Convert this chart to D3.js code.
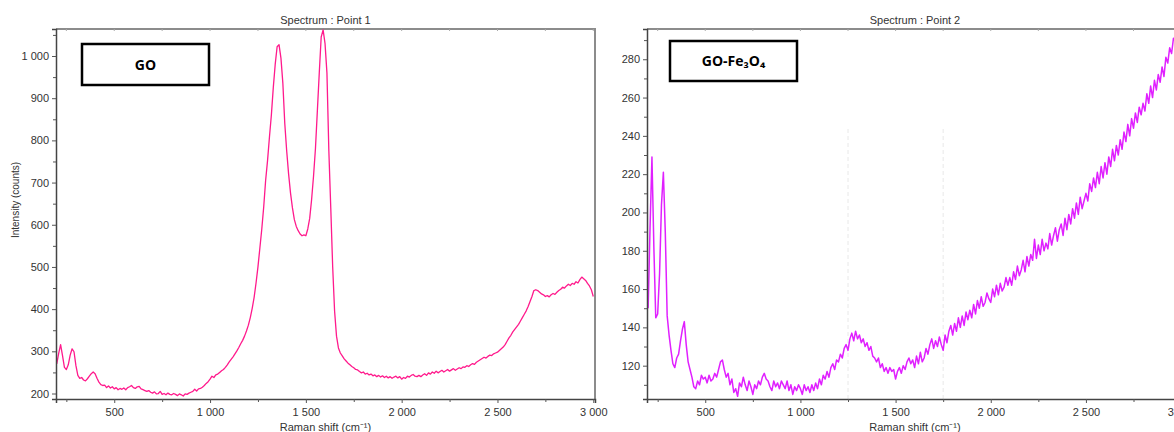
<!DOCTYPE html>
<html lang="en">
<head>
<meta charset="UTF-8">
<title>Raman spectra GO / GO-Fe3O4</title>
<script src="https://d3js.org/d3.v7.min.js"></script>
<style>
    body { margin: 0; background: #fff; }
    text { font-family: "Liberation Sans", Arial, sans-serif; fill: #333; }
    .tick text { font-size: 11px; }
    .title { font-size: 11px; }
    .label-box text { font-family: "Open Sans", sans-serif; font-weight: bold; fill: #000; }
</style>
</head>
<body>
<div id="chart"></div>
<script>
// sampling grid of the spectra (Raman shift, cm-1)
var shift = d3.range(200, 3001, 10);

// GO spectrum, counts
var goCounts = [
    270,295,316,290,262,257,268,291,306,299,
    266,243,236,238,232,230,235,241,247,251,
    247,236,227,221,219,220,214,218,213,216,
    211,214,209,212,210,213,209,214,216,219,
    214,212,216,217,211,209,207,205,207,203,
    201,204,199,200,205,198,200,197,201,198,
    197,200,198,195,199,197,194,199,198,201,
    203,205,210,206,211,212,215,219,224,228,
    234,241,238,244,246,250,254,257,262,268,
    275,281,287,294,301,309,318,326,336,348,
    362,380,402,428,462,500,545,590,642,705,
    752,808,860,925,980,1022,1027,995,935,840,
    775,720,675,640,612,596,586,578,574,576,
    574,590,615,660,715,780,870,960,1045,1062,
    1030,960,775,640,500,395,336,308,296,289,
    282,277,272,268,264,261,257,256,252,249,
    251,246,248,244,246,242,244,240,243,239,
    242,238,241,237,240,236,239,241,237,240,
    234,238,236,241,239,243,245,241,240,243,
    240,244,247,243,249,246,251,248,253,249,
    252,255,251,254,257,253,256,259,255,258,
    261,259,263,262,266,264,268,271,269,274,
    277,280,283,286,284,288,291,290,294,296,
    298,302,306,310,316,324,332,338,346,352,
    358,364,372,380,388,396,406,418,430,444,
    446,444,440,436,434,430,432,429,434,437,
    435,440,444,447,452,450,455,459,456,461,
    459,465,462,470,476,472,468,461,455,446,
    430
];

// GO-Fe3O4 spectrum, counts
var feCounts = [
    150,192,229,182,145,147,168,204,221,190,
    146,136,128,121,119,124,126,133,139,143,
    131,122,118,114,109,108,112,110,115,113,
    114,111,115,112,113,116,114,118,122,123,
    118,114,116,110,113,106,108,104,111,109,
    114,110,107,112,109,105,110,108,112,110,
    114,116,113,112,109,107,112,109,111,108,
    112,110,108,112,107,110,105,109,107,110,
    108,105,110,107,109,106,110,107,111,108,
    113,110,115,113,117,114,119,121,118,123,
    122,126,124,129,131,128,134,137,133,138,
    134,136,132,134,130,132,128,130,125,124,
    122,124,119,121,117,119,116,119,117,118,
    113,117,119,116,120,118,122,124,121,123,
    119,125,121,127,122,124,129,126,131,134,
    129,133,130,135,131,128,136,132,138,141,
    136,142,138,145,140,146,141,148,144,149,
    145,152,147,154,150,156,151,153,158,155,
    153,160,156,162,157,163,159,161,166,162,
    166,162,169,165,172,167,170,175,169,177,
    172,178,175,186,176,183,178,186,180,184,
    181,189,183,188,192,185,191,194,188,197,
    191,199,194,202,197,205,199,208,202,206,
    210,206,215,211,218,213,221,215,224,218,
    226,220,229,224,233,227,235,230,238,233,
    242,237,246,240,249,244,252,247,255,251,
    257,253,262,257,266,260,269,264,272,268,
    276,271,281,278,286,283,291,289,296,300,
    306
];

var xTicks = [500, 1000, 1500, 2000, 2500, 3000];
var xMinor = [250, 750, 1250, 1750, 2250, 2750];
var goYTicks = [200, 300, 400, 500, 600, 700, 800, 900, 1000];
var goYMinor = [250, 350, 450, 550, 650, 750, 850, 950, 1050];
var feYTicks = [120, 140, 160, 180, 200, 220, 240, 260, 280];
var feYMinor = [110, 130, 150, 170, 190, 210, 230, 250, 270, 290];

var fmt = d3.formatLocale({ decimal: ".", thousands: " ", grouping: [3], currency: ["", ""] }).format(",");

var svg = d3.select("#chart").append("svg")
    .attr("width", 1174)
    .attr("height", 432);

function drawPanel(p) {
    var x = d3.scaleLinear().domain(p.xDomain).range([p.left, p.right]);
    var y = d3.scaleLinear().domain(p.yDomain).range([p.bottom, p.top]);
    var g = svg.append("g");

    g.append("clipPath").attr("id", p.id + "-clip")
      .append("rect")
        .attr("x", p.left).attr("y", p.top)
        .attr("width", p.right - p.left).attr("height", p.bottom - p.top);

    // faint dashed markers (only on the second spectrum)
    (p.marks || []).forEach(function(m) {
        g.append("line")
            .attr("x1", x(m)).attr("x2", x(m))
            .attr("y1", p.top + 100).attr("y2", p.bottom)
            .attr("stroke", "#e8e8e8").attr("stroke-dasharray", "4,3");
    });

    // frame: top and right edges
    g.append("path")
        .attr("d", "M" + p.left + "," + p.top + "H" + p.right + "V" + p.bottom)
        .attr("fill", "none").attr("stroke", "#8c8c8c").attr("stroke-width", 2);

    // small inner ticks on top edge
    xTicks.concat(xMinor).forEach(function(t) {
        g.append("line").attr("x1", x(t)).attr("x2", x(t))
            .attr("y1", p.top).attr("y2", p.top + 2).attr("stroke", "#aaa");
    });

    var line = d3.line()
        .x(function(d) { return x(d[0]); })
        .y(function(d) { return y(d[1]); });

    g.append("path")
        .datum(d3.zip(shift, p.counts))
        .attr("clip-path", "url(#" + p.id + "-clip)")
        .attr("fill", "none")
        .attr("stroke", p.color)
        .attr("stroke-width", p.width)
        .attr("stroke-linejoin", "round")
        .attr("d", line);

    // axes
    g.append("g")
        .attr("transform", "translate(0," + p.bottom + ")")
        .call(d3.axisBottom(x).tickValues(xTicks).tickFormat(fmt).tickSizeOuter(0).tickSize(4).tickPadding(5));
    g.append("g")
        .attr("transform", "translate(0," + p.bottom + ")")
        .call(d3.axisBottom(x).tickValues(xMinor).tickFormat("").tickSize(3))
        .select(".domain").remove();

    g.append("g")
        .attr("transform", "translate(" + p.left + ",0)")
        .call(d3.axisLeft(y).tickValues(p.yTicks).tickFormat(fmt).tickSizeOuter(0).tickSize(4).tickPadding(3));
    g.append("g")
        .attr("transform", "translate(" + p.left + ",0)")
        .call(d3.axisLeft(y).tickValues(p.yMinor.filter(function(v) { return v < p.yDomain[1]; })).tickFormat("").tickSize(3))
        .select(".domain").remove();

    g.selectAll(".domain").attr("stroke", "#444").attr("stroke-width", 1.5);
    g.selectAll(".tick line").attr("stroke", "#555");
    g.selectAll(".tick text").attr("fill", "#333");

    // titles
    var cx = (p.left + p.right) / 2;
    g.append("text").attr("class", "title")
        .attr("x", cx).attr("y", 24).attr("text-anchor", "middle")
        .text(p.title);
    g.append("text").attr("class", "title")
        .attr("x", cx).attr("y", 431).attr("text-anchor", "middle")
        .text("Raman shift (cm\u207B\u00B9)");
    if (p.yTitle) {
        g.append("text").attr("class", "title")
            .style("font-size", "10px")
            .attr("transform", "translate(19,200) rotate(-90)")
            .attr("text-anchor", "middle")
            .text(p.yTitle);
    }

    // sample label box
    var b = g.append("g").attr("class", "label-box");
    b.append("rect")
        .attr("x", p.box[0]).attr("y", p.box[1])
        .attr("width", p.box[2]).attr("height", p.box[3])
        .attr("fill", "#fff").attr("stroke", "#000").attr("stroke-width", 2.5);
    b.append("text")
        .attr("x", p.box[0] + p.box[2] / 2)
        .attr("y", p.box[1] + p.box[3] / 2 + 5)
        .attr("text-anchor", "middle")
        .style("font-size", "14px")
        .text(p.label);
}

drawPanel({
    id: "go", left: 56, right: 595, top: 29, bottom: 399,
    xDomain: [196, 3009], yDomain: [187, 1064],
    counts: goCounts, color: "#ff1a8c", width: 1.3,
    yTicks: goYTicks, yMinor: goYMinor,
    title: "Spectrum : Point 1", yTitle: "Intensity (counts)",
    label: "GO", box: [82, 44, 127, 41]
});

drawPanel({
    id: "fe", left: 647, right: 1183, top: 29, bottom: 399,
    xDomain: [194, 3010], yDomain: [102.6, 295.8],
    counts: feCounts, color: "#e020ff", width: 1.5,
    yTicks: feYTicks, yMinor: feYMinor, marks: [1250, 1750],
    title: "Spectrum : Point 2",
    label: "GO-Fe\u2083O\u2084", box: [670, 41, 127, 40]
});
</script>
</body>
</html>
